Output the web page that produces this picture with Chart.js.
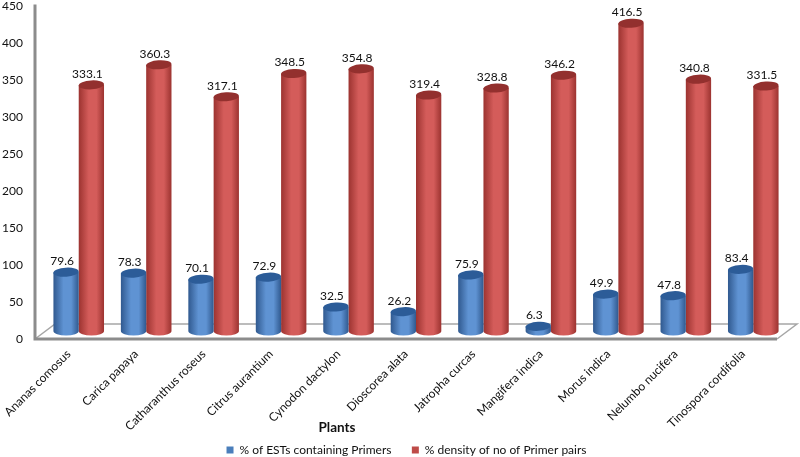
<!DOCTYPE html>
<html>
<head>
<meta charset="utf-8">
<style>
  html, body { margin: 0; padding: 0; background: #fff; }
  #wrap { width: 800px; height: 457px; }
</style>
<script src="https://cdn.jsdelivr.net/npm/chart.js@4"></script>
</head>
<body>
<div id="wrap"><canvas id="chart" width="800" height="457"></canvas></div>
<script>
const plants = ['Ananas comosus', 'Carica papaya', 'Catharanthus roseus', 'Citrus aurantium', 'Cynodon dactylon',
  'Dioscorea alata', 'Jatropha curcas', 'Mangifera indica', 'Morus indica', 'Nelumbo nucifera', 'Tinospora cordifolia'];
const estPercent = [79.6, 78.3, 70.1, 72.9, 32.5, 26.2, 75.9, 6.3, 49.9, 47.8, 83.4];
const primerDensity = [333.1, 360.3, 317.1, 348.5, 354.8, 319.4, 328.8, 346.2, 416.5, 340.8, 331.5];

const fontName = 'Lato, "Open Sans", sans-serif';
const textColor = '#111111';

// how far the bars sit back from the front of the floor
const depthX = 10;
const depthY = -8;

const cylinderColors = [
  { edge: '#30598f', light: '#5f93d3', cap: '#2c5c98' },
  { edge: '#9c3330', light: '#d45c5a', cap: '#93302e' }
];

const drawCylinder = (ctx, bar, colors) => {
  const left = bar.x - bar.width / 2 + depthX;
  const right = bar.x + bar.width / 2 + depthX;
  const mid = bar.x + depthX;
  const top = bar.y + depthY;
  const bottom = bar.base + depthY;
  const rx = bar.width / 2;
  const ry = 4.5;

  const grad = ctx.createLinearGradient(left, 0, right, 0);
  grad.addColorStop(0, colors.edge);
  grad.addColorStop(0.4, colors.light);
  grad.addColorStop(0.7, colors.light);
  grad.addColorStop(1, colors.edge);

  ctx.fillStyle = grad;
  ctx.beginPath();
  ctx.moveTo(left, top);
  ctx.lineTo(left, bottom);
  ctx.ellipse(mid, bottom, rx, ry, 0, Math.PI, 0, true);
  ctx.lineTo(right, top);
  ctx.closePath();
  ctx.fill();

  ctx.fillStyle = colors.cap;
  ctx.beginPath();
  ctx.ellipse(mid, top, rx, ry, -0.06, 0, Math.PI * 2);
  ctx.fill();
};

const cylinders = {
  id: 'cylinders',
  afterLayout(chart) {
    // legend sits off centre and lower than the default box
    chart.legend.left += 18;
    chart.legend.right += 18;
    chart.legend.top += 9;
    chart.legend.bottom += 9;
  },
  beforeDatasetsDraw(chart) {
    const { ctx, chartArea } = chart;
    const x0 = chartArea.left;
    const x1 = chartArea.right;
    const y0 = chartArea.bottom;
    const backX = depthX * 2;
    const backY = depthY * 2 + 1;
    ctx.save();

    // floor
    ctx.fillStyle = '#ffffff';
    ctx.strokeStyle = '#a6a6a6';
    ctx.lineWidth = 1.5;
    ctx.beginPath();
    ctx.moveTo(x0, y0);
    ctx.lineTo(x0 + backX, y0 + backY);
    ctx.lineTo(x1 + backX, y0 + backY);
    ctx.lineTo(x1, y0);
    ctx.fill();
    ctx.stroke();

    // front edge and left wall
    ctx.strokeStyle = '#8c8c8c';
    ctx.lineWidth = 3;
    ctx.beginPath();
    ctx.moveTo(x0, chartArea.top - 2);
    ctx.lineTo(x0, y0);
    ctx.lineTo(x1, y0);
    ctx.stroke();
    ctx.restore();
  },
  beforeDatasetDraw(chart, args) {
    const { ctx } = chart;
    const meta = chart.getDatasetMeta(args.index);
    const values = chart.data.datasets[args.index].data;
    ctx.save();
    meta.data.forEach((bar) => {
      drawCylinder(ctx, bar, cylinderColors[args.index]);
    });
    ctx.fillStyle = textColor;
    ctx.font = '12px ' + fontName;
    ctx.textAlign = 'center';
    ctx.textBaseline = 'alphabetic';
    meta.data.forEach((bar, i) => {
      ctx.fillText(values[i].toFixed(1), bar.x + depthX - 4, bar.y + depthY - 7);
    });
    ctx.restore();
    return false;
  },
  afterDraw(chart) {
    // axis title is not centred under the plot in the original
    const { ctx, chartArea } = chart;
    ctx.save();
    ctx.fillStyle = textColor;
    ctx.font = 'bold 13.5px ' + fontName;
    ctx.textAlign = 'center';
    ctx.textBaseline = 'middle';
    ctx.fillText('Plants', chartArea.left + 302, chartArea.bottom + 89);
    ctx.restore();
  }
};

new Chart(document.getElementById('chart'), {
  type: 'bar',
  data: {
    labels: plants,
    datasets: [
      { label: '% of ESTs containing Primers      ', data: estPercent, backgroundColor: '#4a7ebb' },
      { label: '% density of no of Primer pairs', data: primerDensity, backgroundColor: '#be4b48' }
    ]
  },
  plugins: [cylinders],
  options: {
    responsive: false,
    animation: false,
    layout: { padding: { top: 6.5, right: 23, left: 0, bottom: 0 } },
    datasets: { bar: { categoryPercentage: 0.75, barPercentage: 1 } },
    plugins: {
      tooltip: { enabled: false },
      legend: {
        position: 'bottom',
        labels: {
          boxWidth: 7,
          boxHeight: 7,
          padding: 2,
          color: textColor,
          font: { family: fontName, size: 12 }
        }
      }
    },
    scales: {
      x: {
        grid: { display: false },
        border: { display: false },
        afterFit(scale) { scale.height = 94; },
        ticks: {
          minRotation: 45,
          maxRotation: 45,
          padding: 0,
          autoSkip: false,
          color: textColor,
          font: { family: fontName, size: 12 }
        }
      },
      y: {
        min: 0,
        max: 450,
        grid: { display: false },
        border: { display: false },
        afterFit(scale) {
          scale.width = 35;
          scale.paddingTop = 0;
          scale.paddingBottom = 0;
        },
        ticks: {
          stepSize: 50,
          padding: 4,
          color: textColor,
          font: { family: fontName, size: 12 }
        }
      }
    }
  }
});
</script>
</body>
</html>
